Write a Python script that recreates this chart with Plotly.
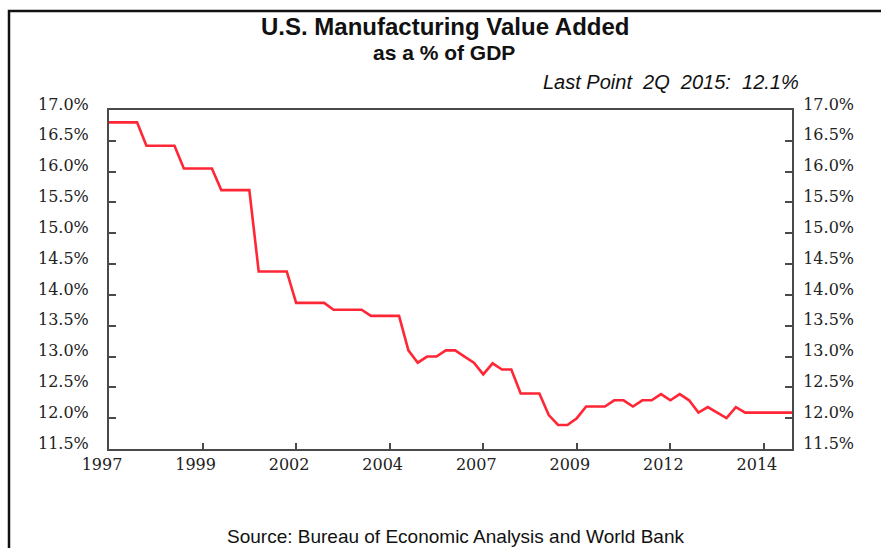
import plotly.graph_objects as go

# Quarterly data, 1Q 1997 .. 2Q 2015 (annual values repeated for 1997-2004)
quarters = [f"{y}Q{q}" for y in range(1997, 2016) for q in range(1, 5)][:74]
values = [
    16.80, 16.80, 16.80, 16.80,   # 1997
    16.42, 16.42, 16.42, 16.42,   # 1998
    16.05, 16.05, 16.05, 16.05,   # 1999
    15.70, 15.70, 15.70, 15.70,   # 2000
    14.38, 14.38, 14.38, 14.38,   # 2001
    13.87, 13.87, 13.87, 13.87,   # 2002
    13.76, 13.76, 13.76, 13.76,   # 2003
    13.66, 13.66, 13.66, 13.66,   # 2004
    13.10, 12.90, 13.00, 13.00,   # 2005
    13.10, 13.10, 13.00, 12.90,   # 2006
    12.71, 12.89, 12.79, 12.79,   # 2007
    12.40, 12.40, 12.40, 12.05,   # 2008
    11.89, 11.89, 12.00, 12.19,   # 2009
    12.19, 12.19, 12.29, 12.29,   # 2010
    12.19, 12.29, 12.29, 12.39,   # 2011
    12.29, 12.39, 12.29, 12.09,   # 2012
    12.18, 12.09, 12.00, 12.18,   # 2013
    12.09, 12.09, 12.09, 12.09,   # 2014
    12.09, 12.09,                 # 2015
]
tick_quarters = ["1997Q1", "1999Q3", "2002Q1", "2004Q3", "2007Q1", "2009Q3", "2012Q1", "2014Q3"]
tick_labels = ["1997", "1999", "2002", "2004", "2007", "2009", "2012", "2014"]
y_ticks = [11.5, 12.0, 12.5, 13.0, 13.5, 14.0, 14.5, 15.0, 15.5, 16.0, 16.5, 17.0]

title = "U.S. Manufacturing Value Added"
subtitle = "as a % of GDP"
last_point = "Last Point  2Q  2015:  12.1%"
source = "Source: Bureau of Economic Analysis and World Bank"

W, H = 881, 548
ML, MR, MT, MB = 109, 89, 110, 99
PW, PH = W - ML - MR, H - MT - MB

axis_color = "#4a4a4a"
tick_font = dict(family="DejaVu Serif", size=16, color="#222222")
text_font = "Liberation Sans, Arial, sans-serif"

fig = go.Figure()
fig.add_trace(go.Scatter(x=quarters, y=values, mode="lines",
                         line=dict(color="#ff2636", width=2.6), showlegend=False))
fig.add_trace(go.Scatter(x=quarters, y=values, mode="lines", yaxis="y2",
                         line=dict(color="rgba(0,0,0,0)", width=0), showlegend=False,
                         hoverinfo="skip"))

common_y = dict(range=[11.5, 17.0], tickvals=y_ticks,
                ticktext=[f"{v:.1f}%" for v in y_ticks],
                ticks="inside", ticklen=7, tickwidth=1.5, tickcolor=axis_color,
                showline=True, linecolor=axis_color, linewidth=2,
                showgrid=False, zeroline=False, tickfont=tick_font,
                ticklabelshift=-6, fixedrange=True)

fig.update_layout(
    width=W, height=H,
    margin=dict(l=ML, r=MR, t=MT, b=MB),
    paper_bgcolor="white", plot_bgcolor="white",
    xaxis=dict(type="category", range=[0, len(values) - 1],
               tickvals=tick_quarters, ticktext=tick_labels,
               ticks="inside", ticklen=6, tickwidth=1.5, tickcolor=axis_color,
               showline=True, linecolor=axis_color, linewidth=2, mirror=True,
               showgrid=False, zeroline=False, tickfont=tick_font,
               ticklabelshift=-7),
    yaxis=dict(**common_y, side="left", mirror=True, ticklabelstandoff=15),
    yaxis2=dict(**common_y, side="right", overlaying="y", ticklabelstandoff=6),
    shapes=[dict(type="rect", xref="paper", yref="paper",
                 x0=(9 - ML) / PW, x1=(W + 20 - ML) / PW,
                 y0=-(H + 20 - MT - PH) / PH, y1=(H - 11 - MB) / PH,
                 line=dict(color="#111111", width=2.5), fillcolor="rgba(0,0,0,0)",
                 layer="below")],
    annotations=[
        dict(text=f"<b>{title}</b>", xref="paper", yref="paper",
             x=(445 - ML) / PW, y=(H - 26 - MB) / PH, showarrow=False,
             xanchor="center", yanchor="middle",
             font=dict(family=text_font, size=24, color="#111111")),
        dict(text=f"<b>{subtitle}</b>", xref="paper", yref="paper",
             x=(444 - ML) / PW, y=(H - 52 - MB) / PH, showarrow=False,
             xanchor="center", yanchor="middle",
             font=dict(family=text_font, size=21, color="#111111")),
        dict(text=f"<i>{last_point}</i>", xref="paper", yref="paper",
             x=(801 - ML) / PW, y=(H - 82 - MB) / PH, showarrow=False,
             xanchor="right", yanchor="middle",
             font=dict(family=text_font, size=20, color="#111111")),
        dict(text=source, xref="paper", yref="paper",
             x=(455 - ML) / PW, y=(H - 536 - MB) / PH, showarrow=False,
             xanchor="center", yanchor="middle",
             font=dict(family=text_font, size=19, color="#111111")),
    ],
)

fig.write_html("out.html", config={"displayModeBar": False},
               post_script="document.body.style.margin='0';document.body.style.overflow='hidden';")
